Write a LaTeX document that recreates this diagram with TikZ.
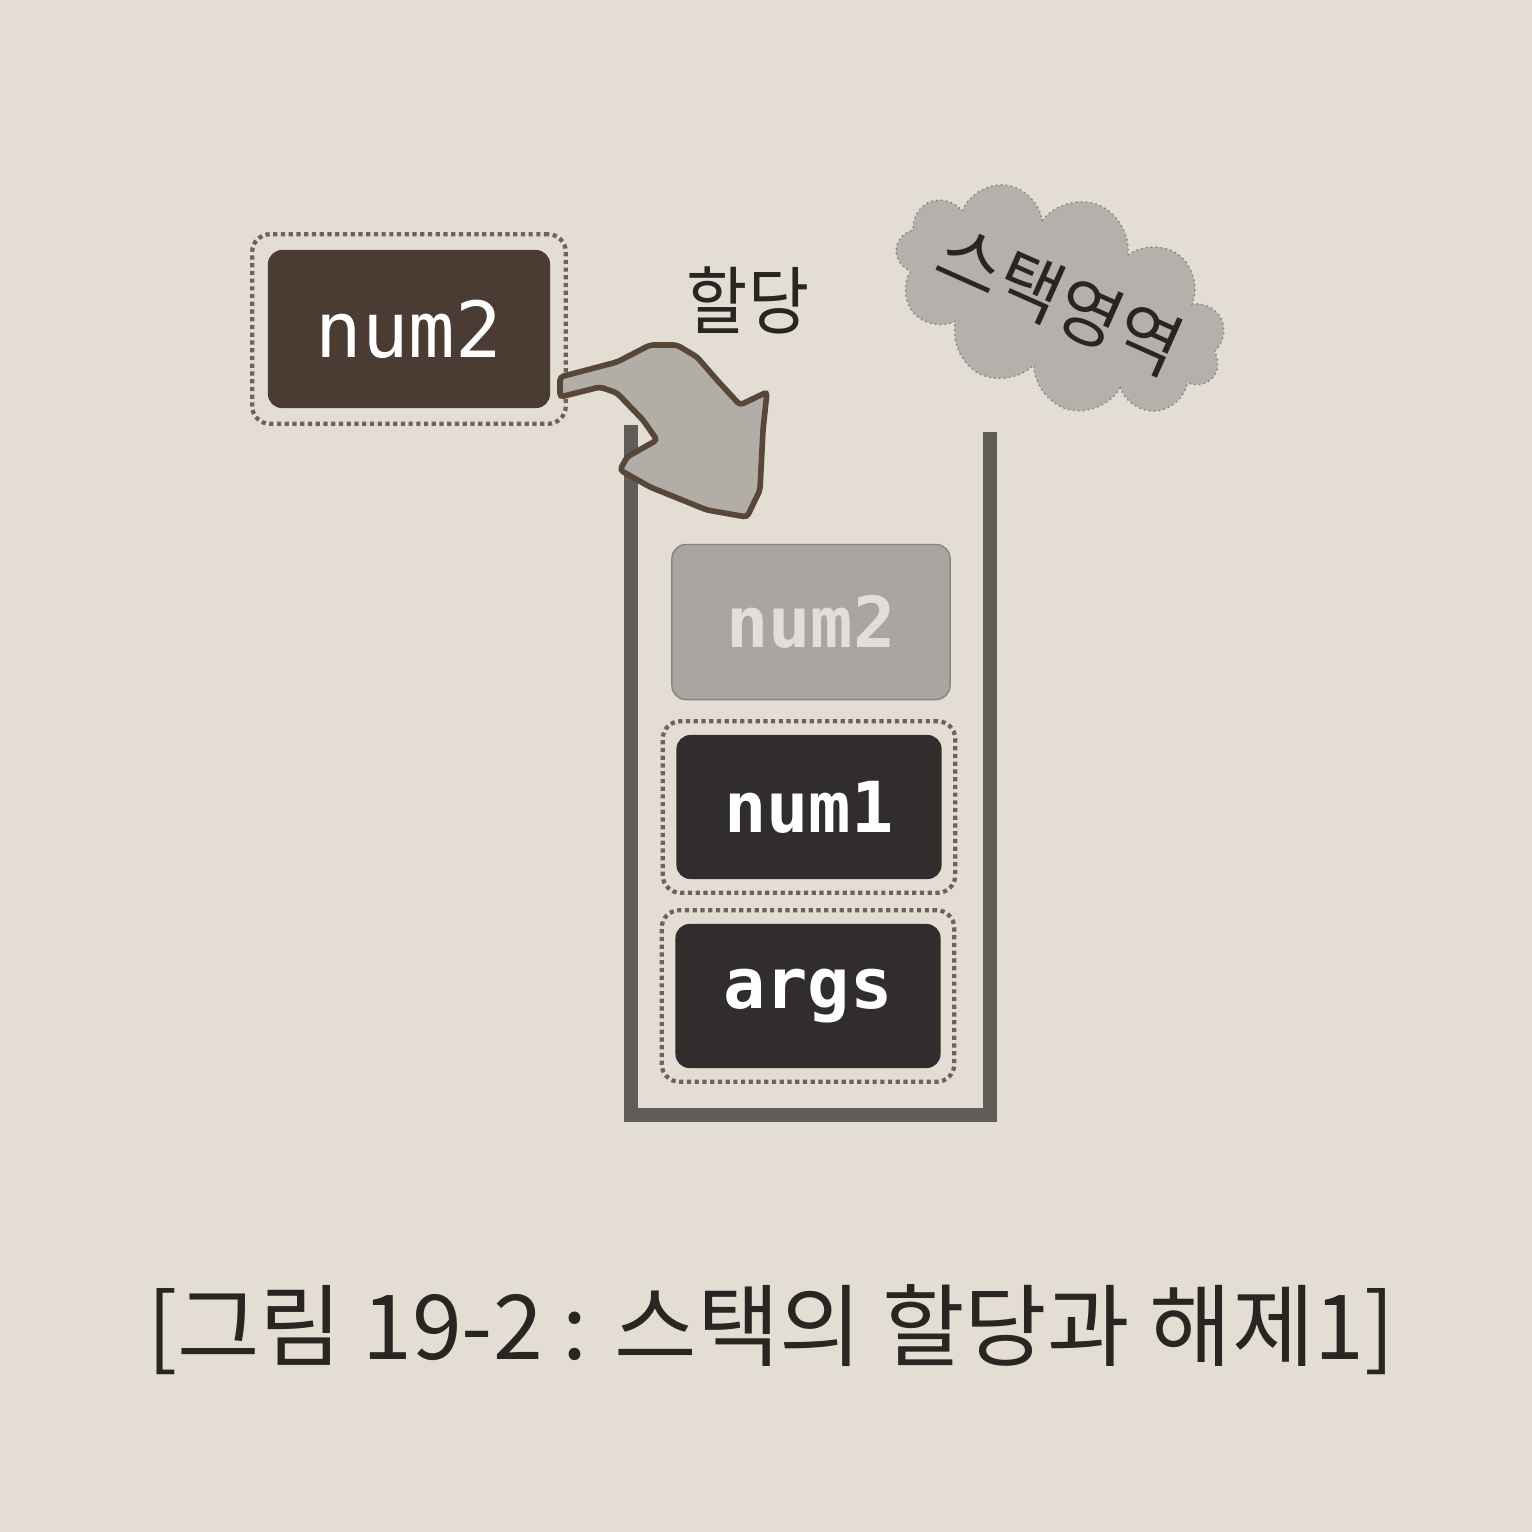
\documentclass[tikz,border=0pt]{standalone}
\usepackage{fontspec}
\newfontfamily\kor{Noto Sans CJK KR}
\newfontfamily\code{DejaVu Sans Mono}
\usetikzlibrary{positioning,fit,shapes.symbols}
\definecolor{paper}{RGB}{228,221,211}
\definecolor{brownbox}{RGB}{74,60,50}
\definecolor{darkbox}{RGB}{48,45,44}
\definecolor{ghostbox}{RGB}{170,165,160}
\definecolor{ghosttext}{RGB}{226,223,219}
\definecolor{wallgray}{RGB}{98,92,88}
\definecolor{framegray}{RGB}{112,98,88}
\definecolor{arrowfill}{RGB}{178,173,167}
\definecolor{arrowedge}{RGB}{88,70,56}
\definecolor{cloudfill}{RGB}{180,176,171}
\definecolor{ink}{RGB}{42,37,34}
\tikzset{
    var box/.style = {
        rounded corners=4pt,
        fill = darkbox,
        text = white,
        font = \code\bfseries\fontsize{20}{20}\selectfont,
        minimum width=2.65cm,
        minimum height=1.44cm,
        },
    new var/.style = {
        var box,
        fill = brownbox,
        font = \code\fontsize{22}{22}\selectfont,
        minimum width=2.82cm,
        minimum height=1.58cm,
        },
    ghost/.style = {
        var box,
        fill = ghostbox,
        text = ghosttext,
        draw = ghostbox!80!black,
        minimum width=2.78cm,
        minimum height=1.55cm,
        },
    frame/.style = {
        draw = framegray,
        densely dotted,
        line width=1.2pt,
        rounded corners=5pt,
        inner sep=0.13cm,
        },
    stack wall/.style = {
        draw = wallgray,
        line width=4pt,
        },
    alloc arrow/.style = {
        fill = arrowfill,
        draw = arrowedge,
        line width=1.6pt,
        rounded corners=1pt,
        },
    label/.style = {
        text = ink,
        font = \kor\fontsize{21}{21}\selectfont,
        },
    stack area/.style = {
        cloud, cloud puffs=11, aspect=1.7,
        fill = cloudfill,
        draw = wallgray!80,
        densely dotted,
        minimum width=3.45cm,
        minimum height=2.05cm,
        },
}

\begin{document}
\begin{tikzpicture}[x=0.01cm, y=-0.01cm]
    \useasboundingbox (0,0) rectangle (1532,1532);
    \fill[paper] (0,0) rectangle (1532,1532);

    % stack area
    \coordinate (wall tl) at (631,425);
    \coordinate (wall bl) at (631,1115);
    \coordinate (wall br) at (990,1115);
    \coordinate (wall tr) at (990,432);
    \draw[stack wall] (wall tl) -- (wall bl) -- (wall br) -- (wall tr);

    \node[ghost] (ghost) at (811,622) {num2};
    \node[var box] (num1) at (809,807) {num1};
    \node[var box] (args) at (808,996) {args};
    \node[frame, fit=(num1)] (num1 frame) {};
    \node[frame, fit=(args)] (args frame) {};

    % new variable
    \node[new var] (new) at (409,329) {num2};
    \node[frame, fit=(new), inner sep=0.15cm] (new frame) {};

    % cloud
    \node[stack area, rotate=-22] (area) at (1060,300) {};
    \node[label, rotate=-24, font=\kor\fontsize{20}{20}\selectfont] (area text) at (area.center) {스택영역};

    \node[label, xscale=0.9] (alloc) at (748,300) {할당};

    % arrow
    \draw[alloc arrow] (560,377) -- (617,362) -- (650,345) -- (677,345) -- (697,357)
        -- (717,380) -- (740,405) -- (767,392) -- (763,430) -- (760,490) -- (747,517)
        -- (707,510) -- (650,487) -- (620,470) -- (627,457) -- (657,440) -- (643,420)
        -- (617,393) -- (600,387) -- (560,397) -- cycle;

    \node[label, font=\kor\fontsize{25.5}{25.5}\selectfont] (caption) at (771,1330) {[그림 19-2 : 스택의 할당과 해제1]};
\end{tikzpicture}
\end{document}
